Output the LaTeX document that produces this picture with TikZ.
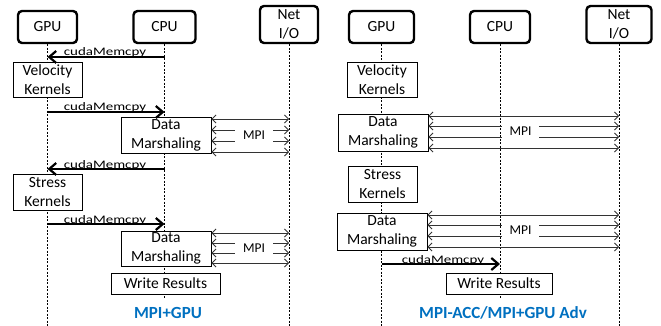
\documentclass[tikz,border=0pt]{standalone}
\usepackage{fontspec}
\setmainfont{Carlito}
\newfontfamily\stretchfont[FakeStretch=1.3]{Carlito}
\usetikzlibrary{arrows.meta}
\definecolor{titleblue}{RGB}{0,112,192}
\begin{document}
\begin{tikzpicture}[x=1pt,y=-1pt,
  hdr/.style={draw,line width=2.4pt,rounded corners=4pt,fill=white,align=center,inner sep=0pt,font=\fontsize{15.5}{19}\selectfont},
  proc/.style={draw,line width=0.9pt,fill=white,align=center,inner sep=0pt,font=\fontsize{15.5}{19}\selectfont},
  life/.style={line width=0.7pt,dash pattern=on 2pt off 1.5pt},
  memcpy/.style={line width=2.5pt,-{Straight Barb[length=7pt,width=12pt,line width=2.2pt]}},
  mpi/.style={line width=0.8pt,draw=black!80,{Straight Barb[length=4pt,width=8pt]}-{Straight Barb[length=4pt,width=8pt]}},
  mlab/.style={font=\stretchfont\fontsize{11.5}{13}\selectfont,anchor=base,inner sep=0pt},
  mpilab/.style={fill=white,inner sep=0pt,minimum height=17pt,font=\fontsize{13.5}{16}\selectfont},
  ttl/.style={font=\bfseries\fontsize{17}{20}\selectfont,text=titleblue}]
\useasboundingbox (0,0) rectangle (661,326);
% headers
\node[hdr,minimum width=59pt,minimum height=32pt] (gpuA) at (47.5,27) {GPU};
\node[hdr,minimum width=62pt,minimum height=32pt] (cpuA) at (164.5,27) {CPU};
\node[hdr,minimum width=58pt,minimum height=37pt] (netA) at (289,24.5) {Net\\I/O};
\node[hdr,minimum width=65pt,minimum height=32pt] (gpuB) at (381.5,27) {GPU};
\node[hdr,minimum width=60pt,minimum height=32pt] (cpuB) at (500,27) {CPU};
\node[hdr,minimum width=65pt,minimum height=37pt] (netB) at (619,24.5) {Net\\I/O};
% lifeline ends
\coordinate (gpuAend) at (gpuA.south |- 0,326);
\coordinate (cpuAend) at (cpuA.south |- 0,298);
\coordinate (netAend) at (netA.south |- 0,326);
\coordinate (gpuBend) at (gpuB.south |- 0,326);
\coordinate (cpuBend) at (cpuB.south |- 0,298);
\coordinate (netBend) at (netB.south |- 0,326);
\draw[life] (gpuA.south) -- (gpuAend);
\draw[life] (cpuA.south) -- (cpuAend);
\draw[life] (netA.south) -- (netAend);
\draw[life] (gpuB.south) -- (gpuBend);
\draw[life] (cpuB.south) -- (cpuBend);
\draw[life] (netB.south) -- (netBend);
% left process boxes
\node[proc,minimum width=69pt,minimum height=35pt] (velA) at (47.5,79.5) {Velocity\\Kernels};
\node[proc,minimum width=90pt,minimum height=36pt] (dmA1) at (166,135) {Data\\Marshaling};
\node[proc,minimum width=69pt,minimum height=36pt] (strA) at (47.5,192) {Stress\\Kernels};
\node[proc,minimum width=90pt,minimum height=35pt] (dmA2) at (166,248.5) {Data\\Marshaling};
\node[proc,minimum width=109pt,minimum height=21pt] (wrA) at (165.5,283.5) {Write Results};
% right process boxes
\node[proc,minimum width=70pt,minimum height=35pt] (velB) at (382,79.5) {Velocity\\Kernels};
\node[proc,minimum width=90pt,minimum height=37pt] (dmB1) at (383,132.5) {Data\\Marshaling};
\node[proc,minimum width=69pt,minimum height=36pt] (strB) at (382.5,184) {Stress\\Kernels};
\node[proc,minimum width=90pt,minimum height=37pt] (dmB2) at (382,231.5) {Data\\Marshaling};
\node[proc,minimum width=106pt,minimum height=21pt] (wrB) at (499,283.5) {Write Results};
% cudaMemcpy labels
\node[mlab] (mA1) at (105,56) {cudaMemcpy};
\node[mlab] (mA2) at (105,111) {cudaMemcpy};
\node[mlab] (mA3) at (105,168) {cudaMemcpy};
\node[mlab] (mA4) at (105,223) {cudaMemcpy};
\node[mlab] (mB1) at (443,263) {cudaMemcpy};
% cudaMemcpy arrows
\draw[memcpy] (cpuA.south |- 0,57) -- (gpuA.south |- 0,57);
\draw[memcpy] (gpuA.south |- 0,112) -- (cpuA.south |- 0,112);
\draw[memcpy] (cpuA.south |- 0,169) -- (gpuA.south |- 0,169);
\draw[memcpy] (gpuA.south |- 0,224) -- (cpuA.south |- 0,224);
\draw[memcpy] (gpuB.south |- 0,264) -- (cpuB.south |- 0,264);
% MPI arrows left
\foreach \y in {119,130,141,152} \draw[mpi] (dmA1.east |- 0,\y) -- (netA.south |- 0,\y);
\foreach \y in {233,243,253,263} \draw[mpi] (dmA2.east |- 0,\y) -- (netA.south |- 0,\y);
% MPI arrows right
\foreach \y in {116,126,137,148} \draw[mpi] (dmB1.east |- 0,\y) -- (netB.south |- 0,\y);
\foreach \y in {215,225,236,247} \draw[mpi] (dmB2.east |- 0,\y) -- (netB.south |- 0,\y);
% MPI labels
\node[mpilab,minimum width=38pt] (pA1) at (254,135.5) {MPI};
\node[mpilab,minimum width=38pt] (pA2) at (254,248) {MPI};
\node[mpilab,minimum width=37pt] (pB1) at (520.5,131.5) {MPI};
\node[mpilab,minimum width=37pt] (pB2) at (520.5,230.5) {MPI};
% titles
\node[ttl] (tA) at (168,313) {MPI+GPU};
\node[ttl] (tB) at (503,313) {MPI-ACC/MPI+GPU Adv};
\end{tikzpicture}
\end{document}
